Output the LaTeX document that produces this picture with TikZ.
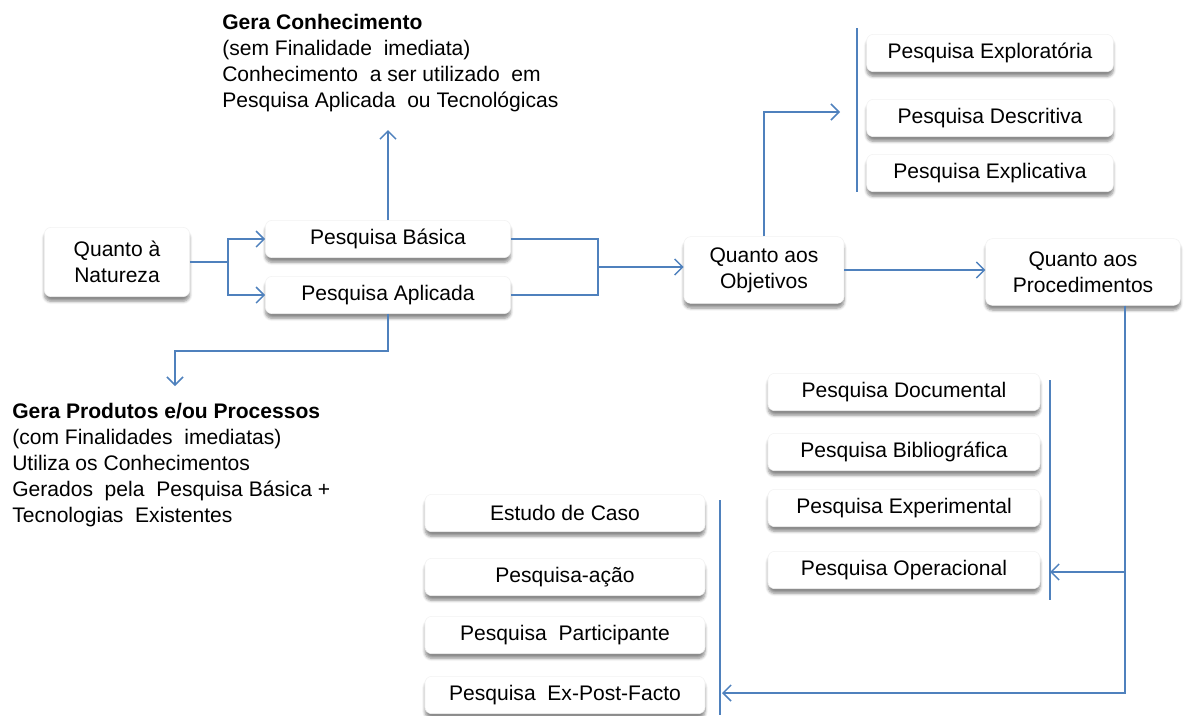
\documentclass[tikz,border=0pt]{standalone}
\usepackage{fontspec}
\setmainfont{Liberation Sans}
\usetikzlibrary{arrows.meta,shadows.blur}
\definecolor{linkblue}{RGB}{79,129,189}
\tikzset{
  box/.style = {rounded corners=5pt, fill=white, draw=gray!10, align=center,
    font=\fontsize{15.8}{19.5}\selectfont,
    blur shadow={shadow xshift=0pt, shadow yshift=-3.5pt, shadow blur steps=6, shadow opacity=45}},
  smallbox/.style = {box, minimum height=28pt},
  link/.style = {draw=linkblue, line width=1.1pt},
  note/.style = {align=left, inner sep=0pt, font=\fontsize{15.8}{19.5}\selectfont}
}
\tikzset{>={Straight Barb[length=6pt,width=12pt,line width=1.1pt]}}

\begin{document}
\begin{tikzpicture}[x=0.75pt,y=-0.75pt]
  \useasboundingbox (0,0) rectangle (1186,715);
  % natureza
  \node[box, minimum width=109pt, minimum height=52pt] (natureza) at (117,262) {Quanto à\\Natureza};
  \node[smallbox, minimum width=184pt] (basica) at (388,239) {Pesquisa Básica};
  \node[smallbox, minimum width=184pt] (aplicada) at (388,295) {Pesquisa Aplicada};
  % notes
  \node[note, anchor=north west] (conhec) at (222,14) {\textbf{Gera Conhecimento}\\(sem Finalidade\ \ imediata)\\Conhecimento\ \ a ser utilizado\ \ em\\Pesquisa Aplicada\ \ ou Tecnológicas};
  \node[note, anchor=north west] (produtos) at (12,403) {\textbf{Gera Produtos e/ou Processos}\\(com Finalidades\ \ imediatas)\\Utiliza os Conhecimentos\\Gerados\ \ pela\ \ Pesquisa Básica +\\Tecnologias\ \ Existentes};
  % objetivos
  \node[box, minimum width=120pt, minimum height=50pt] (objetivos) at (764,270) {Quanto aos\\Objetivos};
  \node[smallbox, minimum width=185pt] (explor) at (990,53) {Pesquisa Exploratória};
  \node[smallbox, minimum width=185pt] (descr) at (990,118) {Pesquisa Descritiva};
  \node[smallbox, minimum width=185pt] (explic) at (990,173) {Pesquisa Explicativa};
  % procedimentos
  \node[box, minimum width=146pt, minimum height=50pt] (procedimentos) at (1083,272) {Quanto aos\\Procedimentos};
  \node[smallbox, minimum width=204pt] (document) at (904,392) {Pesquisa Documental};
  \node[smallbox, minimum width=204pt] (biblio) at (904,452) {Pesquisa Bibliográfica};
  \node[smallbox, minimum width=204pt] (experim) at (904,508) {Pesquisa Experimental};
  \node[smallbox, minimum width=204pt] (operac) at (904,570) {Pesquisa Operacional};
  \node[smallbox, minimum width=210pt] (caso) at (565,513) {Estudo de Caso};
  \node[smallbox, minimum width=210pt] (acao) at (565,577) {Pesquisa-ação};
  \node[smallbox, minimum width=210pt] (particip) at (565,635) {Pesquisa\ \ Participante};
  \node[smallbox, minimum width=210pt] (expost) at (565,695) {Pesquisa\ \ Ex-Post-Facto};
  % junctions
  \coordinate (nj) at (228,262);
  \coordinate (bj) at (597,267);
  \coordinate (ct) at (388,130);
  \coordinate (pt) at (175,386);
  \coordinate (ot) at (840,112);
  \coordinate (pj) at (1125,572);
  \coordinate (oa) at (1050,572);
  \coordinate (ca) at (722,693);
  % bars
  \draw[link, line width=0.8pt] (857,28) coordinate (ob1) -- (857,192) coordinate (ob2);
  \draw[link, line width=0.8pt] (1050,380) coordinate (pb1) -- (1050,600) coordinate (pb2);
  \draw[link, line width=0.8pt] (720,500) coordinate (cb1) -- (720,715) coordinate (cb2);
  % arrows
  \draw[link] (natureza.east) -- (nj);
  \draw[link,->] (nj) |- (basica.west);
  \draw[link,->] (nj) |- (aplicada.west);
  \draw[link,->] (basica.north) -- (ct);
  \draw[link,->] (aplicada.south) -- ++(0,37) -| (pt);
  \draw[link] (basica.east) -- ++(87,0) |- (aplicada.east);
  \draw[link,->] (bj) -- (objetivos.west |- bj);
  \draw[link,->] (objetivos.north) |- (ot);
  \draw[link,->] (objetivos.east) -- (procedimentos.west |- objetivos.east);
  \draw[link,->] (procedimentos.south -| pj) |- (ca);
  \draw[link,->] (pj) -- (oa);
\end{tikzpicture}
\end{document}
